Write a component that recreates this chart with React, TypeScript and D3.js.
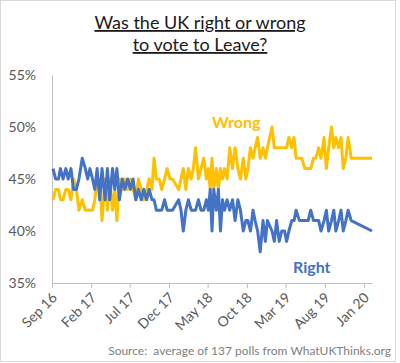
import React, { useEffect, useRef } from 'react'
import * as d3 from 'd3'

// poll dates (fieldwork mid-point), share saying Right / Wrong to vote Leave
const pollDates = [
  '2016-09-05', '2016-09-15', '2016-09-26', '2016-10-04', '2016-10-14', '2016-10-25',
  '2016-11-03', '2016-11-14', '2016-11-24', '2016-12-05', '2016-12-15', '2016-12-28',
  '2017-01-09', '2017-01-18', '2017-01-27', '2017-02-06', '2017-02-15', '2017-02-24',
  '2017-03-06', '2017-03-15', '2017-03-27', '2017-04-05', '2017-04-14', '2017-04-25',
  '2017-05-04', '2017-05-12', '2017-05-22', '2017-06-02', '2017-06-12', '2017-06-23',
  '2017-07-04', '2017-07-14', '2017-07-25', '2017-08-04', '2017-08-15', '2017-08-25',
  '2017-09-05', '2017-09-15', '2017-09-26', '2017-10-04', '2017-10-13', '2017-10-24',
  '2017-11-03', '2017-11-14', '2017-11-24', '2017-12-05', '2017-12-15', '2018-01-08',
  '2018-01-17', '2018-01-26', '2018-02-05', '2018-02-15', '2018-02-26', '2018-03-06',
  '2018-03-15', '2018-03-26', '2018-04-05', '2018-04-16', '2018-04-26', '2018-05-04',
  '2018-05-11', '2018-05-18', '2018-05-25', '2018-06-04', '2018-06-12', '2018-06-20',
  '2018-06-28', '2018-07-06', '2018-07-16', '2018-07-26', '2018-08-06', '2018-08-16',
  '2018-08-27', '2018-09-06', '2018-09-17', '2018-09-27', '2018-10-05', '2018-10-15',
  '2018-10-25', '2018-11-02', '2018-11-12', '2018-11-22', '2018-12-03', '2018-12-12',
  '2018-12-20', '2019-01-07', '2019-01-16', '2019-01-25', '2019-02-04', '2019-02-14',
  '2019-02-25', '2019-03-05', '2019-03-14', '2019-03-25', '2019-04-03', '2019-04-11',
  '2019-04-24', '2019-05-03', '2019-05-15', '2019-05-28', '2019-06-07', '2019-06-18',
  '2019-06-27', '2019-07-08', '2019-07-17', '2019-07-29', '2019-08-07', '2019-08-16',
  '2019-08-27', '2019-09-05', '2019-09-13', '2019-09-24', '2019-10-03', '2019-10-12',
  '2019-10-22', '2019-10-31', '2019-11-12', '2020-02-01'
]

const right = [
  46, 45, 45, 46, 45, 46, 45, 46, 44, 44, 45, 47,
  46, 45, 46, 45, 44, 46, 43, 46, 43, 46, 43, 46,
  44, 46, 43, 45, 44, 45, 44, 45, 43, 44, 43, 44,
  43, 44, 43, 43, 42, 42, 42, 43, 42, 42, 42, 43,
  42, 40, 42, 43, 42, 42, 42, 43, 42, 42, 43, 42,
  44, 40, 44, 42, 44, 40, 43, 42, 43, 42, 43, 41,
  43, 42, 40, 41, 41, 40, 42, 41, 40, 38, 41, 39,
  41, 40, 39, 41, 39, 40, 40, 39, 40, 41, 41, 42,
  41, 41, 41, 41, 42, 41, 41, 41, 40, 41, 42, 40,
  41, 42, 40, 41, 42, 40, 41, 42, 41, 40
]

const wrong = [
  43, 44, 44, 43, 43, 44, 44, 43, 45, 44, 42, 43,
  42, 42, 42, 42, 43, 45, 45, 41, 45, 42, 45, 42,
  44, 41, 45, 44, 45, 44, 45, 44, 43, 45, 44, 43,
  44, 45, 44, 47, 45, 45, 44, 45, 46, 45, 45, 44,
  45, 46, 44, 46, 45, 46, 48, 45, 46, 47, 45, 46,
  44, 47, 44, 46, 44, 46, 45, 46, 45, 48, 46, 48,
  46, 45, 47, 45, 46, 48, 47, 48, 49, 47, 48, 47,
  48, 50, 48, 48, 48, 48, 48, 48, 49, 48, 49, 47,
  47, 47, 46, 46, 46, 47, 47, 48, 47, 49, 46, 48,
  50, 48, 49, 48, 49, 46, 47, 49, 47, 47
]

const tickDates = ['2016-09-01', '2017-02-01', '2017-07-01', '2017-12-01', '2018-05-01',
  '2018-10-01', '2019-03-01', '2019-08-01', '2020-01-01']
const yTicks = [35, 40, 45, 50, 55]

const FONT = 'Lato, "Open Sans", sans-serif'

export default function App () {
  const ref = useRef<SVGSVGElement>(null)

  useEffect(() => {
    const svg = d3.select(ref.current)
    svg.selectAll('*').remove()
    const parse = d3.timeParse('%Y-%m-%d')

    const x = d3.scaleTime()
      .domain([parse('2016-09-01')!, parse('2020-02-01')!])
      .range([52, 372])
    const y = d3.scaleLinear().domain([35, 55]).range([283, 75])

    svg.append('rect')
      .attr('x', 0.5).attr('y', 0.5).attr('width', 395).attr('height', 361)
      .attr('fill', '#fff').attr('stroke', '#d9d9d9')

    // title
    const title = svg.append('text')
      .attr('text-anchor', 'middle')
      .attr('font-family', FONT).attr('font-size', 18).attr('fill', '#1a1a1a')
      .attr('text-decoration', 'underline')
    title.append('tspan').attr('x', 200).attr('y', 29).text('Was the UK right or wrong')
    title.append('tspan').attr('x', 200).attr('y', 51).text('to vote to Leave?')

    // y axis
    const yAxis = svg.append('g')
      .attr('transform', 'translate(52,0)')
      .call(d3.axisLeft(y).tickValues(yTicks).tickSize(0).tickPadding(16)
        .tickFormat(d => d + '%'))
    yAxis.select('.domain').attr('stroke', '#bfbfbf')
    yAxis.selectAll('text')
      .attr('font-family', FONT).attr('font-size', 14).attr('fill', '#595959')

    // x axis
    const xAxis = svg.append('g')
      .attr('transform', 'translate(0,283)')
      .call(d3.axisBottom(x).tickValues(tickDates.map(d => parse(d)!))
        .tickSize(5).tickSizeOuter(0).tickFormat(d3.timeFormat('%b %y') as any))
    xAxis.select('.domain').attr('stroke', '#bfbfbf')
    xAxis.selectAll('line').attr('stroke', '#bfbfbf')
    xAxis.selectAll('text')
      .attr('font-family', FONT).attr('font-size', 14).attr('fill', '#595959')
      .attr('text-anchor', 'end')
      .attr('dy', '0.35em')
      .attr('transform', 'translate(2,12) rotate(-45)')
      .attr('y', 0).attr('x', 0)

    const line = d3.line<number>()
      .x((_, i) => x(parse(pollDates[i])!))
      .y(d => y(d))

    svg.append('path').datum(wrong)
      .attr('d', line).attr('fill', 'none')
      .attr('stroke', '#FFC000').attr('stroke-width', 3).attr('stroke-linejoin', 'round')
    svg.append('path').datum(right)
      .attr('d', line).attr('fill', 'none')
      .attr('stroke', '#4472C4').attr('stroke-width', 3).attr('stroke-linejoin', 'round')

    svg.append('text')
      .attr('x', 212).attr('y', 128)
      .attr('font-family', FONT).attr('font-size', 16).attr('font-weight', 'bold')
      .attr('fill', '#FFC000').text('Wrong')
    svg.append('text')
      .attr('x', 293).attr('y', 273)
      .attr('font-family', FONT).attr('font-size', 16).attr('font-weight', 'bold')
      .attr('fill', '#4472C4').text('Right')

    svg.append('text')
      .attr('x', 391).attr('y', 355).attr('text-anchor', 'end')
      .attr('font-family', FONT).attr('font-size', 12).attr('fill', '#7f7f7f')
      .attr('xml:space', 'preserve')
      .text('Source:  average of 137 polls from WhatUKThinks.org')
  }, [])

  return (
    <div style={{ position: 'absolute', left: 0, top: 0 }}>
      <svg ref={ref} width={400} height={363} style={{ display: 'block' }} />
    </div>
  )
}
